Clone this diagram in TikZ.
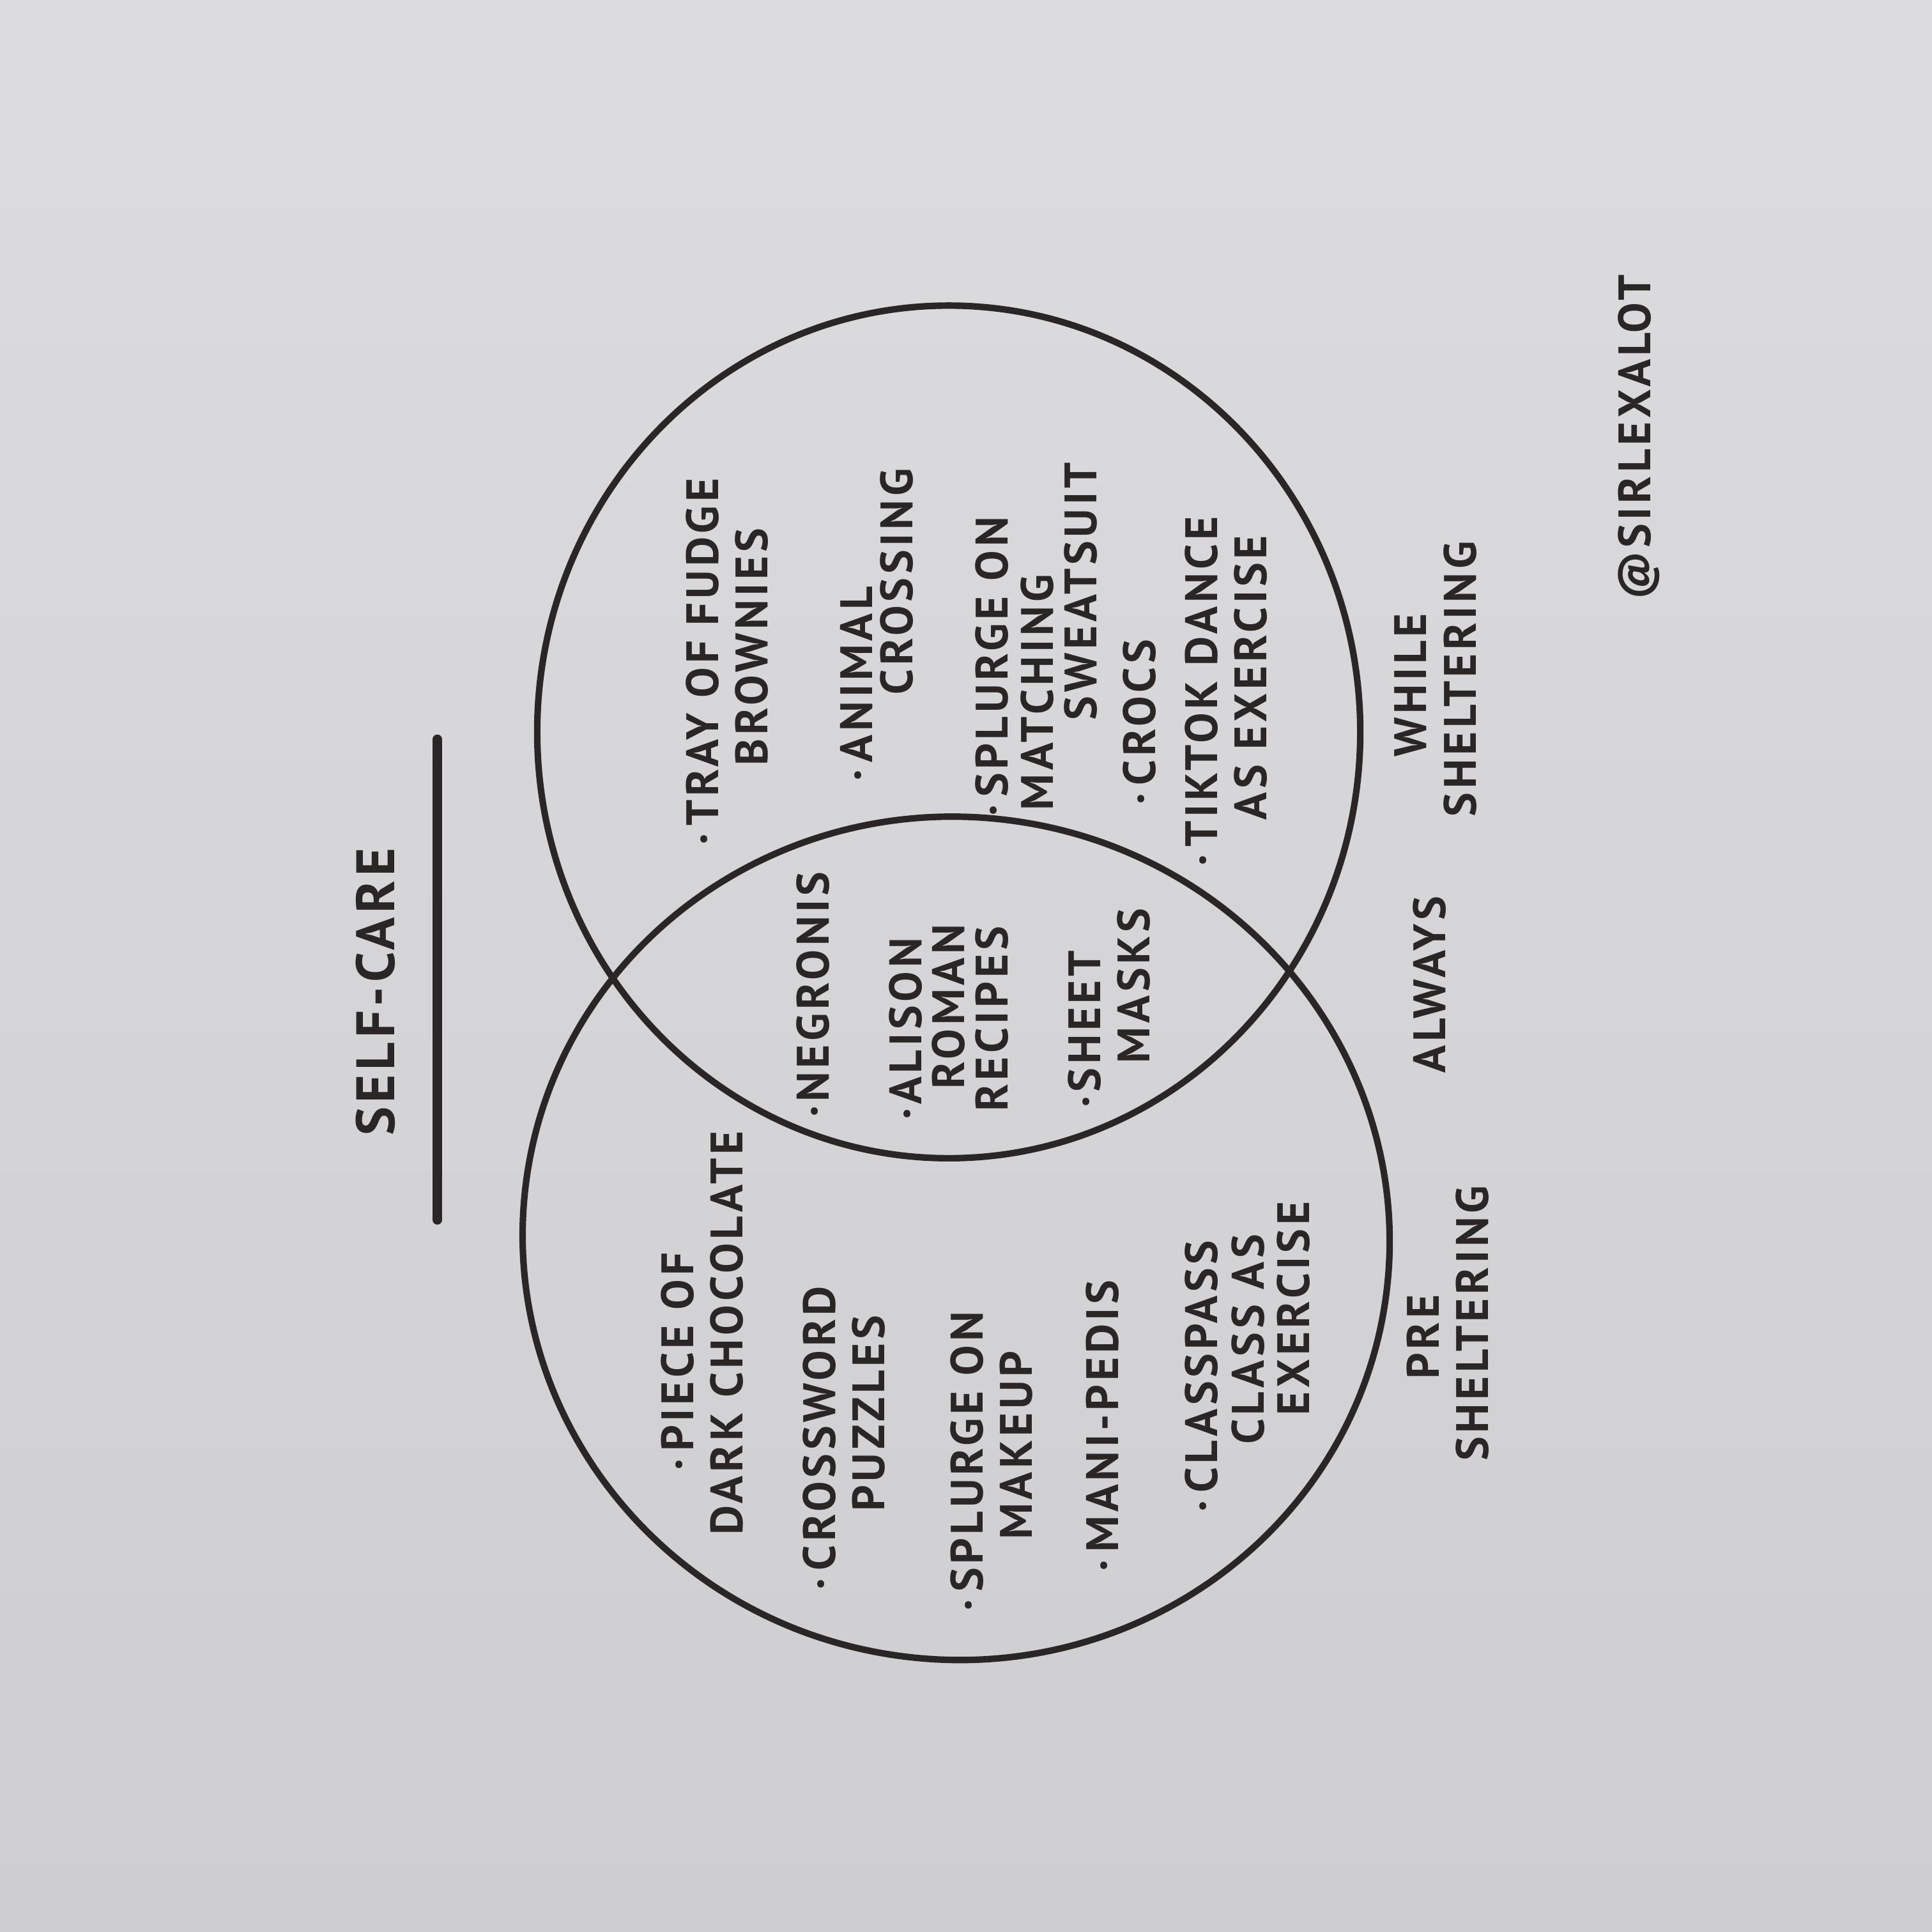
\documentclass[tikz,border=0pt]{standalone}
\usepackage{fontspec}
\setmainfont{PT Sans}[LetterSpace=8]
\definecolor{ink}{RGB}{42,38,38}
\definecolor{paperA}{RGB}{220,220,222}
\definecolor{paperB}{RGB}{206,206,209}
\begin{document}
\begin{tikzpicture}[x=0.01cm,y=-0.01cm,
  itm/.style={rotate=90, font=\fontsize{10.5}{12}\selectfont\bfseries, text=ink, inner sep=0pt},
  ttl/.style={itm, font=\fontsize{12.5}{14}\selectfont\bfseries},
  ring/.style={draw=ink, line width=1.5pt}]
\shade[top color=paperA, bottom color=paperB] (0,0) rectangle (1568,1568);
\useasboundingbox (0,0) rectangle (1568,1568);
% circles
\draw[ring] (770,594) ellipse [x radius=334, y radius=346];
\draw[ring, rotate around={-8:(776,1005)}] (776,1005) ellipse [x radius=352, y radius=342];
% title
\node[ttl] (title) at (305,805) {SELF-CARE};
\coordinate (ulA) at (355,600);
\coordinate (ulB) at (355,990);
\draw[ink, line width=2.2pt, line cap=round] (ulA) -- (ulB);
% lower circle items
\node[itm] (p1a) at (550,1105) {·\,PIECE OF};
\node[itm] (p1b) at (590,1082) {DARK CHOCOLATE};
\node[itm] (p2a) at (665,1167) {·\,CROSSWORD};
\node[itm] (p2b) at (705,1147) {PUZZLES};
\node[itm] (p3a) at (785,1186) {·\,SPLURGE ON};
\node[itm] (p3b) at (825,1173) {MAKEUP};
\node[itm] (p4a) at (895,1157) {·\,MANI-PEDIS};
\node[itm] (p5a) at (975,1117) {·\,CLASSPASS};
\node[itm] (p5b) at (1013,1087) {CLASS AS};
\node[itm] (p5c) at (1050,1062) {EXERCISE};
% middle (always)
\node[itm] (m1a) at (660,807) {·NEGRONIS};
\node[itm] (m2a) at (735,835) {·ALISON};
\node[itm] (m2b) at (770,817) {ROMAN};
\node[itm] (m2c) at (805,827) {RECIPES};
\node[itm] (m3a) at (880,835) {·SHEET};
\node[itm] (m3b) at (920,800) {MASKS};
% upper circle items
\node[itm] (w1a) at (570,537) {·\,TRAY OF FUDGE};
\node[itm] (w1b) at (610,525) {BROWNIES};
\node[itm] (w2a) at (695,555) {·\,ANIMAL};
\node[itm] (w2b) at (728,472) {CROSSING};
\node[itm] (w3a) at (805,541) {·\,SPLURGE ON};
\node[itm] (w3b) at (842,562) {MATCHING};
\node[itm] (w3c) at (877,480) {SWEATSUIT};
\node[itm] (w4a) at (925,586) {·\,CROCS};
\node[itm] (w5a) at (975,561) {·\,TIKTOK DANCE};
\node[itm] (w5b) at (1015,550) {AS EXERCISE};
% set labels
\node[itm] (pre1) at (1155,1085) {PRE};
\node[itm] (pre2) at (1195,1074) {SHELTERING};
\node[itm] (alw) at (1160,799) {ALWAYS};
\node[itm] (whl1) at (1145,556) {WHILE};
\node[itm] (whl2) at (1185,551) {SHELTERING};
\node[itm] (sig) at (1330,355) {@SIRLEXALOT};
\end{tikzpicture}
\end{document}
